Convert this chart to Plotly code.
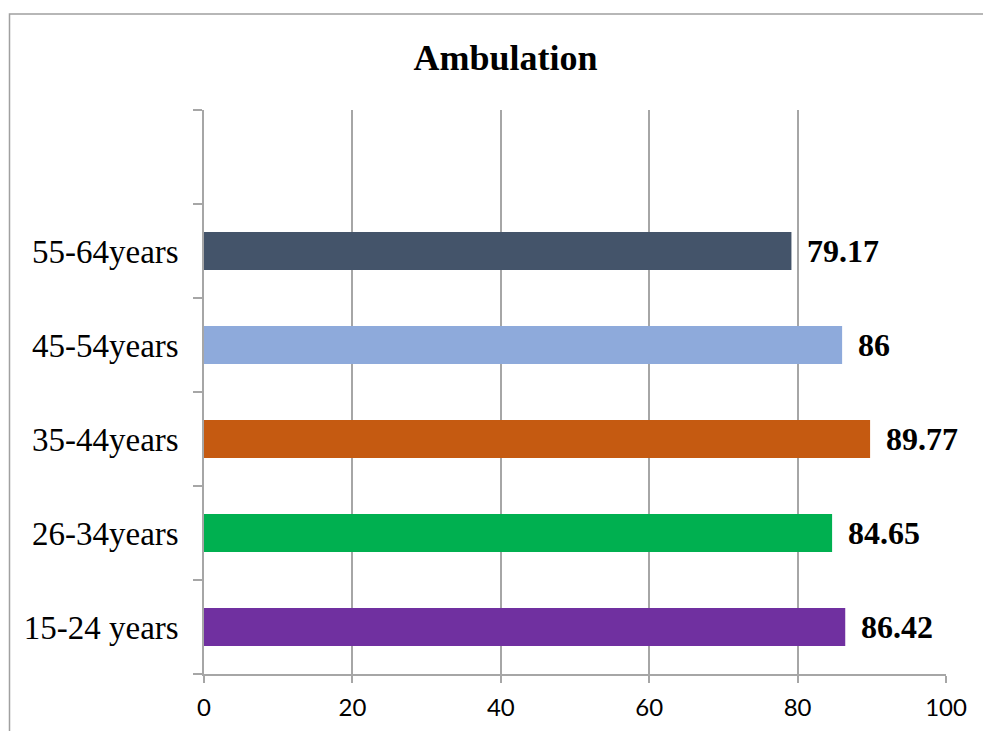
import plotly.graph_objects as go

categories = ["15-24 years", "26-34years", "35-44years", "45-54years", "55-64years"]
values = [86.42, 84.65, 89.77, 86, 79.17]
labels = ["86.42", "84.65", "89.77", "86", "79.17"]
colors = ["#7030A0", "#00B050", "#C55A11", "#8EAADB", "#44546A"]
x_ticks = [0, 20, 40, 60, 80, 100]

W, H = 983, 731
L, R, T, B = 204, 37, 110, 57
pw, ph = W - L - R, H - T - B

all_cats = categories + [" "]

fig = go.Figure()
fig.add_trace(go.Bar(
    y=all_cats,
    x=values + [None],
    orientation="h",
    marker=dict(color=colors + ["rgba(0,0,0,0)"], line=dict(width=0)),
    width=0.404,
    hoverinfo="skip",
    showlegend=False,
))

for c, v, t in zip(categories, values, labels):
    fig.add_annotation(
        x=v, y=c, text=t, showarrow=False, xanchor="left", yanchor="middle",
        xshift=14, font=dict(family="Liberation Serif", size=32, color="black", weight="bold"),
    )

grid = "#a6a6a6"
fig.update_xaxes(
    range=[0, 100], tickvals=x_ticks, ticktext=[str(v) for v in x_ticks],
    showgrid=True, gridcolor=grid, gridwidth=1.5,
    showline=True, linecolor=grid, linewidth=1.5,
    ticks="outside", ticklen=7, tickcolor=grid, tickwidth=1.5,
    tickfont=dict(family="Lato", size=24, color="black"),
    ticklabelstandoff=4, zeroline=False, fixedrange=True, automargin=False,
)
fig.update_yaxes(
    type="category", categoryorder="array", categoryarray=all_cats,
    range=[-0.5, 5.5], tickson="boundaries",
    showgrid=False, showline=True, linecolor=grid, linewidth=1.5,
    ticks="outside", ticklen=9, tickcolor=grid, tickwidth=1.5,
    tickfont=dict(family="Liberation Serif", size=33, color="black"),
    ticklabelstandoff=17, fixedrange=True, automargin=False,
)

fx0 = (9.5 - L) / pw
fy1 = (H - B - 14) / ph
fig.add_shape(type="rect", xref="paper", yref="paper",
              x0=fx0, x1=1.2, y0=-0.3, y1=fy1,
              line=dict(color="#a0a0a0", width=1.5), fillcolor="rgba(0,0,0,0)", layer="below")

fig.update_layout(
    width=W, height=H,
    margin=dict(l=L, r=R, t=T, b=B, autoexpand=False),
    paper_bgcolor="white", plot_bgcolor="white",
    title=dict(text="<b>Ambulation</b>", x=505.5 / W, xref="container",
               y=1 - 57 / H, yanchor="middle", xanchor="center",
               font=dict(family="Liberation Serif", size=36, color="black")),
    bargap=0.6,
)
fig.write_html("out.html")
